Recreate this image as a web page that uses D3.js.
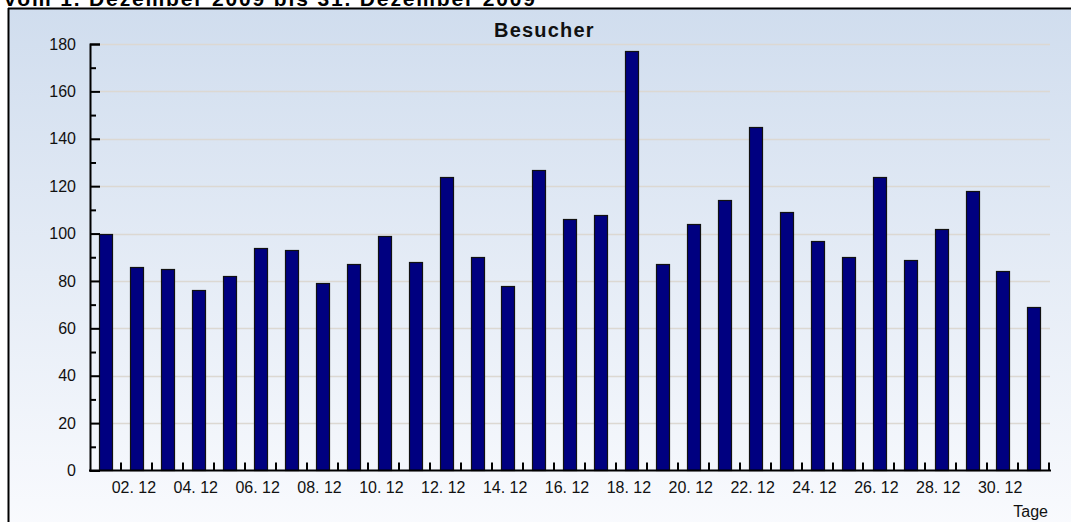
<!DOCTYPE html>
<html><head><meta charset="utf-8">
<script src="https://cdn.jsdelivr.net/npm/d3@7"></script>
<style>
html,body{margin:0;padding:0;background:#fff;overflow:hidden;}
text{font-family:"Liberation Sans",Arial,sans-serif;}
</style></head>
<body><svg id="c" width="1071" height="522"></svg>
<script>
const days = ["01. 12","02. 12","03. 12","04. 12","05. 12","06. 12","07. 12","08. 12","09. 12","10. 12",
  "11. 12","12. 12","13. 12","14. 12","15. 12","16. 12","17. 12","18. 12","19. 12","20. 12",
  "21. 12","22. 12","23. 12","24. 12","25. 12","26. 12","27. 12","28. 12","29. 12","30. 12","31. 12"];
const visitors = [100,86,85,76,82,94,93,79,87,99,88,124,90,78,127,106,108,177,87,104,114,145,109,97,90,124,89,102,118,84,69];
const yMajorTicks = [0,20,40,60,80,100,120,140,160,180];
const yMinorTicks = [10,30,50,70,90,110,130,150,170];
const xTickLabels = ["02. 12","04. 12","06. 12","08. 12","10. 12","12. 12","14. 12","16. 12","18. 12","20. 12","22. 12","24. 12","26. 12","28. 12","30. 12"];
const pageTitle = "Vom 1.  Dezember  2009   bis  31.  Dezember  2009";
const chartTitle = "Besucher";
const xAxisTitle = "Tage";

const svg = d3.select("#c");
const defs = svg.append("defs");
const grad = defs.append("linearGradient").attr("id","bg").attr("x1",0).attr("y1",0).attr("x2",0).attr("y2",1);
grad.append("stop").attr("offset","0%").attr("stop-color","#d0ddee");
grad.append("stop").attr("offset","100%").attr("stop-color","#fafbfe");

// frame
svg.append("rect").attr("x",8).attr("y",8).attr("width",1080).attr("height",530).attr("fill","url(#bg)");
svg.append("line").attr("x1",8).attr("x2",1071).attr("y1",8.5).attr("y2",8.5).attr("stroke","#000").attr("stroke-width",2);
svg.append("line").attr("x1",8.5).attr("x2",8.5).attr("y1",8).attr("y2",522).attr("stroke","#000").attr("stroke-width",2);

// page title (cut off at top, as in the reference)
svg.append("text").attr("x",3).attr("y",6).attr("font-size",21).attr("font-weight","bold")
  .attr("textLength",532).attr("lengthAdjust","spacing")
  .attr("fill","#000").text(pageTitle);

const x = d3.scaleBand().domain(days).range([90,1050]).paddingInner(0.57).paddingOuter(0.3);
const y = d3.scaleLinear().domain([0,180]).range([470.5,44]);

// gridlines
svg.append("g").selectAll("line").data(yMajorTicks.filter(d=>d>0)).join("line")
  .attr("x1",90).attr("x2",1050).attr("y1",d=>Math.round(y(d))+0.5).attr("y2",d=>Math.round(y(d))+0.5)
  .attr("stroke","#dcd8d2").attr("stroke-width",1.5);

// bars
svg.append("g").selectAll("rect").data(visitors).join("rect")
  .attr("x",(d,i)=>Math.round(x(days[i]))+0.5).attr("width",Math.round(x.bandwidth()))
  .attr("y",d=>Math.round(y(d))+0.5).attr("height",d=>y(0)-Math.round(y(d))-0.5)
  .attr("fill","#000080").attr("stroke","#111").attr("stroke-width",1.2);

// y axis
const yAx = svg.append("g").attr("transform","translate(90,0)")
  .call(d3.axisLeft(y).tickValues(yMajorTicks).tickSize(-10).tickPadding(14).tickFormat(d3.format("d")));
yAx.select(".domain").attr("stroke","#000").attr("stroke-width",2);
yAx.selectAll(".tick line").attr("stroke","#000").attr("stroke-width",2);
yAx.selectAll("text").attr("font-size",16).attr("fill","#111").style("font-family","'Liberation Sans',Arial,sans-serif");
const yMin = svg.append("g").attr("transform","translate(90,0)")
  .call(d3.axisLeft(y).tickValues(yMinorTicks).tickSize(-6).tickFormat(""));
yMin.select(".domain").remove();
yMin.selectAll(".tick line").attr("stroke","#000").attr("stroke-width",2);

// x axis line and boundary ticks
const step = x.step();
const x0 = x.range()[0];
const bounds = d3.range(days.length+1).map(i=>x0 + i*step);
svg.append("line").attr("x1",89).attr("x2",1051).attr("y1",y(0)).attr("y2",y(0)).attr("stroke","#000").attr("stroke-width",2);
svg.append("g").selectAll("line").data(bounds.slice(1)).join("line")
  .attr("x1",d=>Math.round(d)).attr("x2",d=>Math.round(d)).attr("y1",y(0)).attr("y2",y(0)-8)
  .attr("stroke","#000").attr("stroke-width",2);

// x labels
svg.append("g").selectAll("text").data(xTickLabels).join("text")
  .attr("x",d=>x(d)+x.bandwidth()/2-3).attr("y",y(0)+22.5)
  .attr("text-anchor","middle").attr("font-size",16).attr("fill","#111").text(d=>d);

svg.append("text").attr("x",1048).attr("y",517).attr("text-anchor","end").attr("font-size",16).attr("fill","#111").text(xAxisTitle);
svg.append("text").attr("x",494).attr("y",37).attr("font-size",20).attr("font-weight","bold")
  .attr("letter-spacing",1.2).attr("fill","#111").text(chartTitle);
</script></body></html>
